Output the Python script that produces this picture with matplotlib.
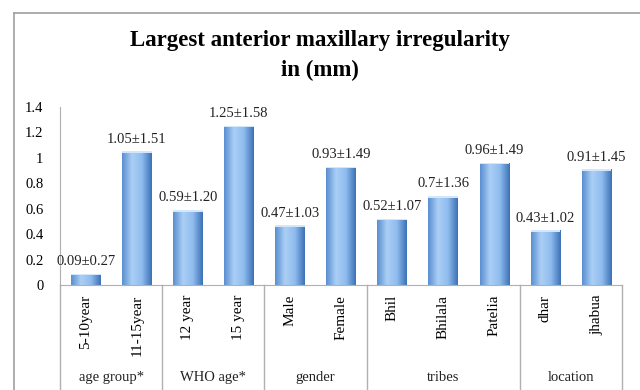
import numpy as np
import matplotlib.pyplot as plt
from matplotlib.colors import LinearSegmentedColormap
from matplotlib.patches import Rectangle

plt.rcParams['font.family'] = ['Liberation Serif', 'DejaVu Serif']

categories = ["5-10year", "11-15year", "12 year", "15 year", "Male", "Female",
              "Bhil", "Bhilala", "Patelia", "dhar", "jhabua"]
means = [0.09, 1.05, 0.59, 1.25, 0.47, 0.93, 0.52, 0.70, 0.96, 0.43, 0.91]
labels = ["0.09±0.27", "1.05±1.51", "0.59±1.20", "1.25±1.58", "0.47±1.03",
          "0.93±1.49", "0.52±1.07", "0.7±1.36", "0.96±1.49", "0.43±1.02",
          "0.91±1.45"]
groups = ["age group*", "WHO age*", "gender", "tribes", "location"]
group_sizes = [2, 2, 2, 3, 2]

fig = plt.figure(figsize=(6.4, 3.9), dpi=100)
ax = fig.add_axes([0.094, 0.269, 0.878, 0.457])

# outer frame of the chart area (left and top only visible)
fig.add_artist(plt.Line2D([14/640, 14/640], [0, 1 - 13/390], color="#a0a0a0", lw=1.2,
                          transform=fig.transFigure))
fig.add_artist(plt.Line2D([14/640, 1], [1 - 13/390, 1 - 13/390], color="#a0a0a0", lw=1.2,
                          transform=fig.transFigure))

x = np.arange(len(categories))
width = 0.58
cmap = LinearSegmentedColormap.from_list("bar", ["#5a8fd0", "#abcff6", "#8fbcee", "#3d72b6"])
grad = np.linspace(0, 1, 64).reshape(1, -1)
bars = ax.bar(x, means, width=width, color="none", edgecolor="none")
for b in bars:
    bx, by = b.get_x(), b.get_y()
    bw, bh = b.get_width(), b.get_height()
    im = ax.imshow(grad, extent=[bx, bx + bw, by, by + bh], cmap=cmap, aspect="auto", zorder=2)
    im.set_clip_path(b)
    ax.add_patch(Rectangle((bx, by + bh - 0.012), bw, 0.012, color="#d3e6fb", lw=0, zorder=3))

for xi, m, lab in zip(x, means, labels):
    ax.text(xi, m + 0.045, lab, ha="center", va="bottom", fontsize=10.5, color="#222222")

ax.set_xlim(-0.5, len(categories) - 0.5)
ax.set_ylim(0, 1.4)
ax.set_yticks(np.arange(0, 1.41, 0.2))
ax.set_yticklabels(["0", "0.2", "0.4", "0.6", "0.8", "1", "1.2", "1.4"], fontsize=10.5)
ax.tick_params(axis="y", length=0, pad=12)
ax.set_xticks(x)
ax.set_xticklabels(categories, rotation=90, fontsize=11, va="top")
ax.tick_params(axis="x", length=0, pad=7)
for s in ["top", "right"]:
    ax.spines[s].set_visible(False)
ax.spines["left"].set_color("#b0b0b0")
ax.spines["bottom"].set_color("#b0b0b0")

# group separators and group labels
trans = ax.get_xaxis_transform()
edges = np.concatenate([[0], np.cumsum(group_sizes)]) - 0.5
for e in edges:
    ax.plot([e, e], [0, -0.62], color="#b0b0b0", lw=1, transform=trans, clip_on=False)
for g, a, b in zip(groups, edges[:-1], edges[1:]):
    ax.text((a + b) / 2, -0.52, g, ha="center", va="center", fontsize=10.5,
            transform=trans, color="#222222")

fig.text(0.5, 0.857, "Largest anterior maxillary irregularity\nin (mm)", ha="center",
         va="center", fontsize=16.5, fontweight="bold", linespacing=1.55)

fig.savefig("out.png", dpi=100)
